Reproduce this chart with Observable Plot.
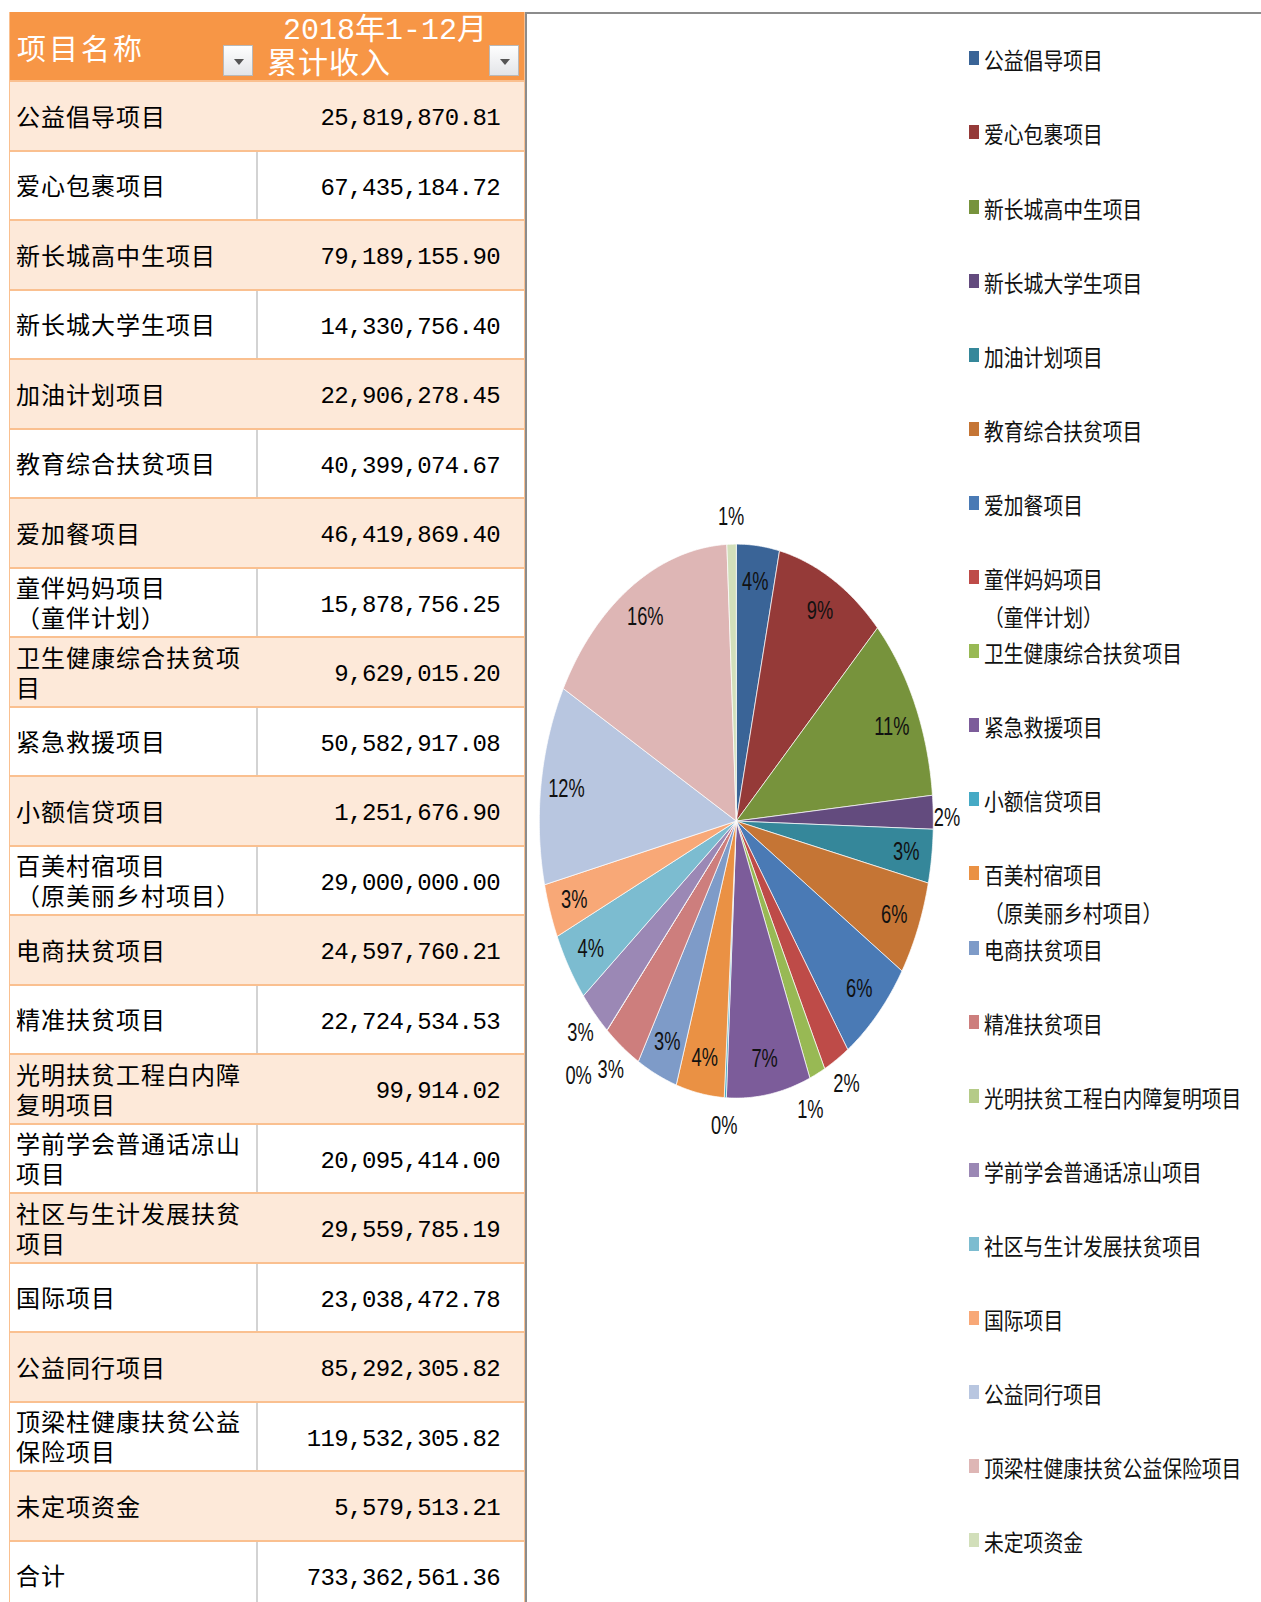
<!DOCTYPE html>
<html>
<head>
<meta charset="utf-8">
<script src="https://cdn.jsdelivr.net/npm/d3@7"></script>
<script src="https://cdn.jsdelivr.net/npm/@observablehq/plot@0.6"></script>
<style>
html, body { margin: 0; padding: 0; background: #fff; }
#page { position: relative; width: 1261px; height: 1602px; overflow: hidden; font-family: "Noto Sans CJK SC", sans-serif; color: #000; }
.abs { position: absolute; }
.hdr { background: #F79646; }
.htext { position: absolute; color: #fff; white-space: nowrap; font-family: "Liberation Mono", "Noto Sans CJK SC", monospace; font-size: 30px; line-height: 34px; }
.btn { position: absolute; width: 30px; height: 31px; box-sizing: border-box; border: 1px solid #b9b9b9; background: linear-gradient(#fefefe, #e3e5e8); }
.btn::after { content: ""; position: absolute; left: 10px; top: 13px; border-left: 5px solid transparent; border-right: 5px solid transparent; border-top: 6px solid #555; }
.row { position: absolute; left: 10px; width: 514px; box-sizing: border-box; }
.name { position: absolute; left: 6px; width: 242px; font-size: 24px; letter-spacing: 1px; line-height: 30px; white-space: pre-line; }
.val { position: absolute; right: 24px; font-family: "Liberation Mono", monospace; font-size: 24px; letter-spacing: -0.6px; white-space: nowrap; }
.leg { position: absolute; left: 969px; white-space: pre; font-size: 22px; line-height: 36px; color: #111; }
.leg .sw { position: absolute; left: 0; top: 11px; width: 10px; height: 14px; }
.leg .lt { position: absolute; left: 15px; top: 0; transform: scale(0.9, 1.05); transform-origin: left top; }
</style>
</head>
<body>
<div id="page"></div>
<script>
// ---- data ----
const projects = [
  "公益倡导项目", "爱心包裹项目", "新长城高中生项目", "新长城大学生项目", "加油计划项目",
  "教育综合扶贫项目", "爱加餐项目", "童伴妈妈项目\n（童伴计划）", "卫生健康综合扶贫项目", "紧急救援项目",
  "小额信贷项目", "百美村宿项目\n（原美丽乡村项目）", "电商扶贫项目", "精准扶贫项目", "光明扶贫工程白内障复明项目",
  "学前学会普通话凉山项目", "社区与生计发展扶贫项目", "国际项目", "公益同行项目", "顶梁柱健康扶贫公益保险项目",
  "未定项资金"
];
const incomes = [
  25819870.81, 67435184.72, 79189155.90, 14330756.40, 22906278.45,
  40399074.67, 46419869.40, 15878756.25, 9629015.20, 50582917.08,
  1251676.90, 29000000.00, 24597760.21, 22724534.53, 99914.02,
  20095414.00, 29559785.19, 23038472.78, 85292305.82, 119532305.82,
  5579513.21
];
const totalLabel = "合计";
const totalValue = 733362561.36;
const headerName = "项目名称";
const headerValueLines = ["2018年1-12月", "累计收入"];
const sliceColors = [
  "#3A6497", "#953A38", "#77933C", "#634B7E", "#35879A",
  "#C57535", "#4A7AB5", "#BE4B48", "#98B954", "#7C5C9A",
  "#46AAC5", "#EA9144", "#7E9BC8", "#CD7E7D", "#B5CB88",
  "#9B88B5", "#7CBCD0", "#F8A877", "#B8C6E0", "#DEB6B5",
  "#D2DFBA"
];

// ---- layout ----
const page = document.getElementById("page");
function el(tag, cls, style, text) {
  const e = document.createElement(tag);
  if (cls) e.className = cls;
  if (style) Object.assign(e.style, style);
  if (text != null) e.textContent = text;
  return e;
}

// chart area border
page.appendChild(el("div", "abs", {left: "525px", top: "12px", width: "740px", height: "1600px", borderTop: "2px solid #8c8c8c", borderLeft: "2px solid #8c8c8c"}));

// table
const tableTop = 12, headerH = 68, rowH = 69.5;
page.appendChild(el("div", "abs", {left: "9px", top: tableTop + "px", width: "516px", height: "1600px", borderLeft: "2px solid #FAC090", borderRight: "2px solid #FAC090", boxSizing: "border-box"}));
page.appendChild(el("div", "abs hdr", {left: "10px", top: tableTop + "px", width: "514px", height: headerH + "px"}));
page.appendChild(el("div", "htext", {left: "17px", top: "30px", fontFamily: "'Noto Sans CJK SC', sans-serif", letterSpacing: "3px", fontSize: "29px"}, headerName));
page.appendChild(el("div", "htext", {left: "283px", top: "14px"}, headerValueLines[0]));
page.appendChild(el("div", "htext", {left: "267px", top: "48px", letterSpacing: "1px"}, headerValueLines[1]));
page.appendChild(el("div", "btn", {left: "223px", top: "45px"}));
page.appendChild(el("div", "btn", {left: "489px", top: "45px"}));

const fmt = d3.format(",.2f");
const rows = projects.map((p, i) => ({name: p, value: incomes[i]}));
rows.push({name: totalLabel, value: totalValue});
rows.forEach((r, i) => {
  const top = tableTop + headerH + i * rowH;
  const peach = i % 2 === 0;
  const row = el("div", "row", {top: top + "px", height: rowH + "px", background: peach ? "#FDE9D9" : "#fff", borderTop: "2px solid #FAC090"});
  if (!peach) {
    row.appendChild(el("div", "abs", {left: "246px", top: "0", width: "2px", height: "100%", background: "#d3d3d3"}));
  }
  const nm = el("div", "name", {}, r.name);
  row.appendChild(nm);
  const v = el("div", "val", {}, fmt(r.value));
  row.appendChild(v);
  page.appendChild(row);
  const nh = nm.getBoundingClientRect().height;
  nm.style.top = ((rowH - 2 - nh) / 2) + "px";
  const vh = v.getBoundingClientRect().height;
  v.style.top = ((rowH - 2 - vh) / 2 + 3) + "px";
});

// ---- pie (Observable Plot) ----
const total = d3.sum(incomes);
const pie = d3.pie().sort(null).value(d => d)(incomes);
const pts = [];
pie.forEach((s, i) => {
  const n = Math.max(2, Math.ceil((s.endAngle - s.startAngle) / (Math.PI / 360)));
  pts.push({name: projects[i], x: 0, y: 0});
  for (let k = 0; k <= n; k++) {
    const a = s.startAngle + (s.endAngle - s.startAngle) * k / n;
    pts.push({name: projects[i], x: Math.sin(a), y: -Math.cos(a)});
  }
  pts.push({name: projects[i], x: 0, y: 0});
});
// label placement (fraction of the pie radius): inside 0.87, outside for crowded slices
const labelRadius = pie.map(() => 0.87);
[7, 10, 13, 15, 20].forEach(i => labelRadius[i] = 1.1);
labelRadius[3] = 1.07;
labelRadius[8] = 1.12;
labelRadius[14] = 1.22;
const labelShift = {2: [0, 0.025], 3: [0, 0.02], 8: [-0.085, 0.02]};
const labels = pie.map((s, i) => {
  const a = (s.startAngle + s.endAngle) / 2;
  const sh = labelShift[i] || [0, 0];
  return {x: Math.sin(a) * labelRadius[i] + sh[0], y: -Math.cos(a) * labelRadius[i] + sh[1], text: Math.round(incomes[i] / total * 100) + "%"};
});

const svgLeft = 530, svgTop = 480;
const cx = 735.8 - svgLeft, cy = 820.6 - svgTop, rx = 197, ry = 277;
const chart = Plot.plot({
  width: 430,
  height: 680,
  margin: 0,
  style: {background: "transparent", overflow: "visible"},
  x: {domain: [-1, 1], range: [cx - rx, cx + rx], axis: null},
  y: {domain: [-1, 1], range: [cy - ry, cy + ry], axis: null},
  color: {domain: projects, range: sliceColors},
  marks: [
    Plot.line(pts, {x: "x", y: "y", z: "name", fill: "name", stroke: "#ffffff", strokeWidth: 1, strokeOpacity: 0.7, strokeLinejoin: "round", curve: "linear"}),
    Plot.text(labels, {x: "x", y: "y", text: "text", fontSize: 21, fontFamily: "'Liberation Sans', sans-serif", fill: "#111"})
  ]
});
// narrow, tall glyphs like the stretched Excel labels: append a scale to each label's own translate
chart.querySelectorAll("text").forEach(t => {
  const tr = t.getAttribute("transform");
  if (tr && tr.includes("translate")) t.setAttribute("transform", tr + " scale(0.87,1.24)");
});
const holder = el("div", "abs", {left: svgLeft + "px", top: svgTop + "px", width: "430px", height: "680px"});
holder.appendChild(chart);
page.appendChild(holder);

// ---- legend ----
projects.forEach((p, i) => {
  const cyL = 58.3 + i * 74.1;
  const item = el("div", "leg", {top: (cyL - 18) + "px"});
  item.appendChild(el("div", "sw", {background: sliceColors[i]}));
  item.appendChild(el("div", "lt", {}, p));
  page.appendChild(item);
});
</script>
</body>
</html>
